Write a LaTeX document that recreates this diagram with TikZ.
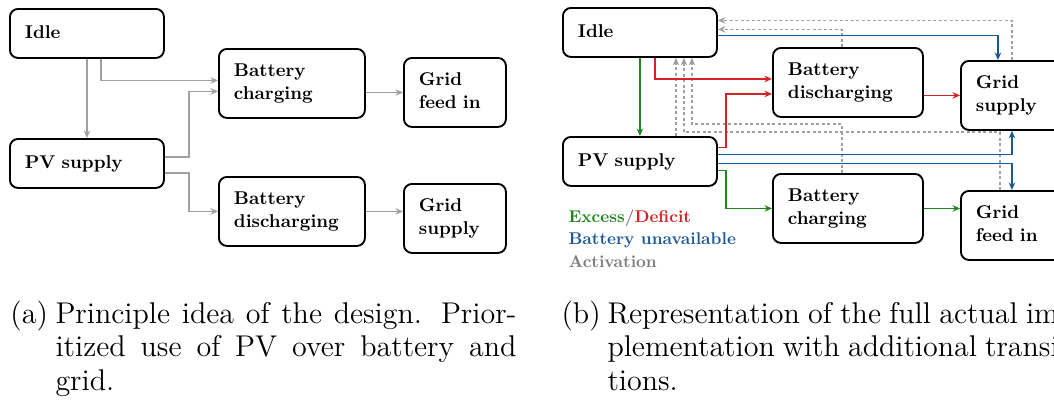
\documentclass[tikz,border=0pt]{standalone}
\usetikzlibrary{arrows.meta,calc}

\definecolor{lgray}{RGB}{160,160,160}
\definecolor{tgray}{RGB}{125,125,125}
\definecolor{cgreen}{RGB}{30,135,30}
\definecolor{cred}{RGB}{212,35,35}
\definecolor{cblue}{RGB}{28,88,148}

% bold labels set at the 10pt design size, then reduced
\newcommand{\bt}[1]{\scalebox{0.74}{\fontsize{10}{12.4}\selectfont\bfseries\begin{tabular}{@{}l@{}}#1\end{tabular}}}
\newcommand{\lt}[1]{\scalebox{0.68}{\fontsize{10}{13.5}\selectfont\bfseries #1}}

\tikzset{
  stbox/.style={draw, line width=0.75pt, rounded corners=3.2pt, anchor=north west,
    inner xsep=6pt, inner ysep=0pt, align=left},
  wbox/.style={minimum width=61.6pt, text width=49.6pt, minimum height=19.6pt},
  batbox/.style={minimum width=#1, text width=#1-12pt, minimum height=27.6pt},
  gridbox/.style={minimum width=40.8pt, text width=28.8pt, minimum height=27.6pt},
  headtip/.style={-{Stealth[length=3pt,width=2.6pt]}},
  conA/.style={draw=lgray, line width=0.5pt, headtip},
  greenc/.style={draw=cgreen, line width=0.5pt, headtip},
  redc/.style={draw=cred, line width=0.5pt, headtip},
  bluec/.style={draw=cblue, line width=0.5pt, headtip},
  actc/.style={draw=lgray, line width=0.5pt, dash pattern=on 1.2pt off 1pt, headtip},
  legtext/.style={anchor=base west, inner sep=0pt},
  captext/.style={anchor=base west, inner sep=0pt, font=\fontsize{12}{13.4}\selectfont},
}

\begin{document}
\begin{tikzpicture}[x=0.4pt, y=-0.4pt]
\useasboundingbox (0,0) rectangle (1054,401);
\clip (0,0) rectangle (1054,401);

% ---------- (a) principle ----------
\node[stbox, wbox] (idleA) at (9,8) {\bt{Idle}};
\node[stbox, wbox] (pvA) at (9,138) {\bt{PV supply}};
\node[stbox, batbox=58.4pt] (bcA) at (218,48) {\bt{Battery\\charging}};
\node[stbox, batbox=58.4pt] (bdA) at (218,176) {\bt{Battery\\discharging}};
\node[stbox, gridbox] (gfA) at (403,57) {\bt{Grid\\feed in}};
\node[stbox, gridbox] (gsA) at (403,183) {\bt{Grid\\supply}};

\draw[conA] (idleA.south) -- (pvA.north);
\draw[conA] ($(idleA.south)+(14,0)$) |- ($(bcA.west)+(0,-3)$);
\draw[conA] ($(pvA.east)+(0,-6.5)$) -- ++(24,0) |- ($(bcA.west)+(0,8)$);
\draw[conA] ($(pvA.east)+(0,9.5)$) -- ++(24,0) |- (bdA.west);
\draw[conA] (bcA.east |- gfA.west) -- (gfA.west);
\draw[conA] (bdA.east) -- (bdA.east -| gsA.west);

% ---------- (b) full implementation ----------
\node[stbox, wbox] (idleB) at (562,7) {\bt{Idle}};
\node[stbox, wbox] (pvB) at (562,136) {\bt{PV supply}};
\node[stbox, batbox=60pt] (bdB) at (772,47) {\bt{Battery\\discharging}};
\node[stbox, batbox=60pt] (bcB) at (772,173) {\bt{Battery\\charging}};
\node[stbox, gridbox] (gsB) at (960,60) {\bt{Grid\\supply}};
\node[stbox, gridbox] (gfB) at (960,190) {\bt{Grid\\feed in}};

% activation transitions back to idle
\draw[actc] (gsB.north) |- ($(idleB.east)+(0,-12)$);
\draw[actc] ($(bdB.north)+(-6,0)$) |- ($(idleB.east)+(0,-3)$);
\draw[actc] ($(pvB.north)+(36,0)$) -- ($(idleB.south)+(36,0)$);
\draw[actc] ($(gfB.north)+(-12,0)$) -- ++(0,-58) -| ($(idleB.south)+(44,0)$);
\draw[actc] ($(bcB.north)+(-6,0)$) -- ++(0,-49) -| ($(idleB.south)+(52,0)$);

% excess
\draw[greenc] (idleB.south) -- (pvB.north);
\draw[greenc] ($(pvB.east)+(0,9)$) -- ++(8,0) |- (bcB.west);
\draw[greenc] (bcB.east) -- (bcB.east -| gfB.west);

% deficit
\draw[redc] ($(idleB.south)+(15,0)$) |- ($(bdB.west)+(0,-3.5)$);
\draw[redc] ($(pvB.east)+(0,-14)$) -- ++(8,0) |- ($(bdB.west)+(0,11.5)$);
\draw[redc] (bdB.east |- gsB.west) -- (gsB.west);

% battery unavailable
\draw[bluec] ($(idleB.east)+(0,3)$) -| ($(gsB.north)+(-14,0)$);
\draw[bluec] ($(pvB.east)+(0,-7)$) -| (gsB.south);
\draw[bluec] ($(pvB.east)+(0,2)$) -| (gfB.north);

% legend
\node[legtext] (leg1) at (568,222) {\lt{\textcolor{cgreen}{Excess}\textcolor{tgray}{/}\textcolor{cred}{Deficit}}};
\node[legtext, text=cblue] (leg2) at (568,244) {\lt{Battery unavailable}};
\node[legtext, text=tgray] (leg3) at (568,267) {\lt{Activation}};

% ---------- captions ----------
\node[captext] (capA) at (10,323) {(a)};
\node[captext] (capAtext) at (55,323) {\parbox[t]{184.4pt}{Principle idea of the design. Prior-\linebreak itized use of PV over battery and\linebreak grid.}};
\node[captext] (capB) at (561,323) {(b)};
\node[captext] (capBtext) at (607,323) {\parbox[t]{184.4pt}{Representation of the full actual im-\linebreak plementation with additional transi-\linebreak tions.}};
\end{tikzpicture}
\end{document}
